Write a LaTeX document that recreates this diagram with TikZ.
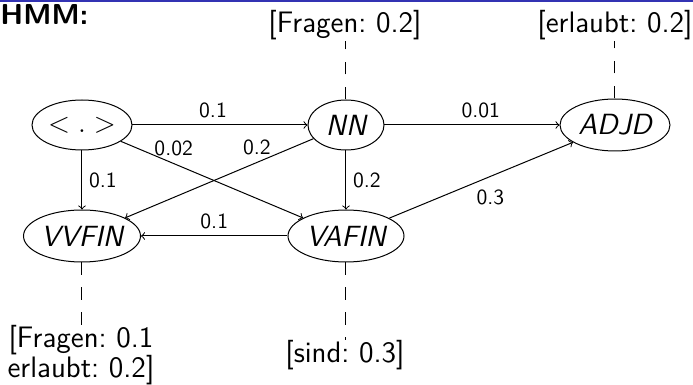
\documentclass[tikz,border=0pt]{standalone}
\usetikzlibrary{shapes.geometric}
\definecolor{beamerblue}{RGB}{51,51,179}
\frenchspacing
\begin{document}
\begin{tikzpicture}[x=0.5pt,y=-0.5pt, line width=0.5pt,
  state/.style={ellipse, draw, inner sep=0pt, font=\fontsize{14.6}{16}\selectfont\sffamily\itshape},
  lbl/.style={inner sep=0pt, font=\fontsize{14.8}{15}\selectfont\sffamily},
  el/.style={font=\fontsize{10.8}{12}\selectfont\sffamily},
  arr/.style={->},
  dl/.style={dash pattern=on 6.25pt off 6.25pt}]
\useasboundingbox (0,0) rectangle (693,385);
\fill[beamerblue] (0,0) rectangle (693,2.5);
\node[font=\fontsize{14.4}{16}\selectfont\sffamily\bfseries, anchor=base west, inner sep=0pt] (T) at (0,25) {HMM:};
% states
\node[state, minimum width=50pt, minimum height=25pt] (S) at (82,125) {$<.>$};
\node[state, minimum width=38pt, minimum height=25pt] (NN) at (346,125) {NN};
\node[state, minimum width=55pt, minimum height=26pt] (ADJD) at (615,125) {ADJD};
\node[state, minimum width=58.5pt, minimum height=26pt] (VVFIN) at (82,236) {VVFIN};
\node[state, minimum width=58pt, minimum height=26pt] (VAFIN) at (346,236) {VAFIN};
% emission labels
\node[lbl, anchor=base] (LNN) at (345,33) {[Fragen: 0.2]};
\node[lbl, anchor=base] (LADJD) at (615,33) {[erlaubt: 0.2]};
\node[lbl, anchor=north, align=center] (LVV) at (81,325) {[Fragen: 0.1\\erlaubt: 0.2]};
\node[lbl, anchor=base] (LVA) at (345,363) {[sind: 0.3]};
% dashed emission links
\draw[dl] (NN.north) -- (NN.north |- LNN.south);
\draw[dl] (ADJD.north) -- (ADJD.north |- LADJD.south);
\draw[dl] (VVFIN.south) -- (VVFIN.south |- LVV.north);
\draw[dl] (VAFIN.south) -- (VAFIN.south |- LVA.north);
% transitions
\draw[arr] (S) -- node[el, above, pos=0.46] {0.1} (NN);
\draw[arr] (S) -- node[el, above, pos=0.29] {0.02} (VAFIN);
\draw[arr] (NN) -- node[el, above, pos=0.30] {0.2} (VVFIN);
\draw[arr] (S) -- node[el, right] {0.1} (VVFIN);
\draw[arr] (NN) -- node[el, right] {0.2} (VAFIN);
\draw[arr] (NN) -- node[el, above, pos=0.55] {0.01} (ADJD);
\draw[arr] (VAFIN) -- node[el, below=3pt, pos=0.55] {0.3} (ADJD);
\draw[arr] (VAFIN) -- node[el, above] {0.1} (VVFIN);
\end{tikzpicture}
\end{document}
